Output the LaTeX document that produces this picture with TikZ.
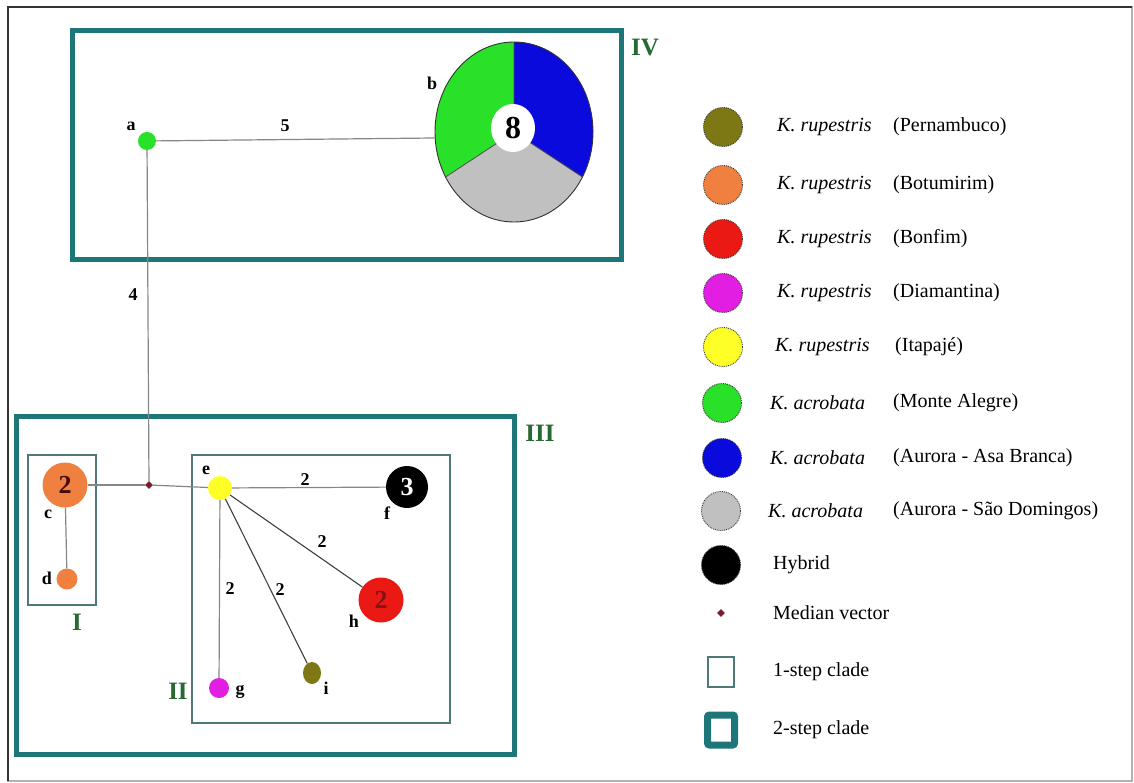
\documentclass[tikz,border=0pt]{standalone}
\usepackage{fontspec}
\setmainfont{Liberation Serif}
\usetikzlibrary{shapes.geometric}
\definecolor{hOrange}{RGB}{240,128,64}
\definecolor{hRed}{RGB}{235,25,20}
\definecolor{hMagenta}{RGB}{225,30,225}
\definecolor{hYellow}{RGB}{255,255,40}
\definecolor{hGreen}{RGB}{40,225,40}
\definecolor{hBlue}{RGB}{10,10,220}
\definecolor{hGray}{RGB}{192,192,192}
\definecolor{hOlive}{RGB}{125,120,20}
\definecolor{tealbox}{RGB}{30,118,120}
\definecolor{thinteal}{RGB}{80,120,120}
\definecolor{cladegreen}{RGB}{40,105,50}
\definecolor{edgegray}{RGB}{135,135,135}
\definecolor{mvred}{RGB}{120,30,45}
\tikzset{
  hap/.style={circle, inner sep=0pt, minimum size=#1},
  lab/.style={font=\fontsize{18}{18}\selectfont\bfseries, inner sep=0pt},
  cladelab/.style={font=\fontsize{25}{25}\selectfont\bfseries, text=cladegreen, inner sep=0pt},
  edge/.style={draw=edgegray, line width=1.2pt},
  dedge/.style={draw=black!75, line width=1.1pt},
  bigbox/.style={draw=tealbox, line width=5pt},
  smallbox/.style={draw=thinteal, line width=1.3pt},
  legdot/.style={circle, minimum size=39pt, inner sep=0pt, draw=black!80, densely dotted, line width=0.9pt},
  legtext/.style={anchor=west, font=\fontsize{20}{24}\selectfont, inner sep=0pt},
}
\begin{document}
\begin{tikzpicture}[x=1pt,y=1pt]
\useasboundingbox (0,0) rectangle (1134,-783);
\fill[white] (0,0) rectangle (1134,-783);
% outer frame
\draw[gray!60, line width=1.2pt] (8,-7) rectangle (1132,-781);
\draw[black!80, line width=1.6pt] (8,-781) -- (8,-7) -- (1132,-7);

% clade boxes
\draw[bigbox] (72,-31) rectangle (621,-260);
\draw[bigbox] (16,-416) rectangle (514,-754);
\draw[smallbox] (28,-455) rectangle (96,-605);
\draw[smallbox] (192,-455) rectangle (450,-723);
\node[cladelab] (lIV) at (645,-48) {IV};
\node[cladelab] (lIII) at (540,-433) {III};
\node[cladelab] (lI) at (77,-622) {I};
\node[cladelab] (lII) at (178,-691) {II};

% haplotype b (pie)
\fill[hGreen] (514,-132) -- ++(90:79pt and 90pt) arc[start angle=90, end angle=210, x radius=79pt, y radius=90pt] -- cycle;
\fill[hGray] (514,-132) -- ++(210:79pt and 90pt) arc[start angle=210, end angle=330, x radius=79pt, y radius=90pt] -- cycle;
\fill[hBlue] (514,-132) -- ++(330:79pt and 90pt) arc[start angle=330, end angle=450, x radius=79pt, y radius=90pt] -- cycle;
\draw[black!70, line width=0.8pt] (514,-132) -- ++(90:79pt and 90pt) (514,-132) -- ++(210:79pt and 90pt) (514,-132) -- ++(330:79pt and 90pt);
\node[ellipse, draw=black!80, line width=0.9pt, minimum width=158pt, minimum height=180pt, inner sep=0pt] (b) at (514,-132) {};
\node[ellipse, fill=white, minimum width=44pt, minimum height=48pt, inner sep=0pt, font=\fontsize{32}{32}\selectfont\bfseries] (bnum) at (513,-128) {8};

% other haplotypes
\node[hap=18pt, fill=hGreen] (a) at (147,-141) {};
\node[hap=45pt, fill=hOrange, font=\fontsize{26}{26}\selectfont\bfseries, text={rgb,255:red,70;green,10;blue,10}] (c) at (65,-485) {2};
\node[hap=21pt, fill=hOrange] (d) at (67,-579) {};
\node[diamond, fill=mvred, inner sep=0pt, minimum size=8pt] (mv) at (149,-485) {};
\node[hap=24pt, fill=hYellow] (e) at (220,-488) {};
\node[hap=42pt, fill=black, text=white, font=\fontsize{26}{26}\selectfont\bfseries] (f) at (407,-487) {3};
\node[hap=45pt, fill=hRed, text={rgb,255:red,130;green,20;blue,20}, font=\fontsize{26}{26}\selectfont\bfseries] (h) at (381,-600) {2};
\node[ellipse, fill=hOlive, inner sep=0pt, minimum width=18pt, minimum height=22pt] (i) at (312,-673) {};
\node[hap=20pt, fill=hMagenta] (g) at (219,-688) {};

% connectors
\draw[edge] (a) -- ([yshift=-6pt]b.west);
\draw[edge] (a) -- (mv);
\draw[edge] (c) -- (mv);
\draw[edge] (mv) -- (e);
\draw[edge] (c) -- (d);
\draw[edge] (e) -- (f);
\draw[edge] (e) -- (g);
\draw[dedge] (e) -- (h);
\draw[dedge] (e) -- (i);

% node letters
\node[lab] (ta) at (131,-126) {a};
\node[lab] (tb) at (432,-83) {b};
\node[lab] (tc) at (48,-514) {c};
\node[lab] (td) at (47,-578) {d};
\node[lab] (te) at (206,-470) {e};
\node[lab] (tf) at (387,-513) {f};
\node[lab] (tg) at (240,-692) {g};
\node[lab] (th) at (354,-621) {h};
\node[lab] (ti) at (326,-688) {i};

% edge numbers
\node[lab] (n5) at (285,-126) {5};
\node[lab] (n4) at (133,-295) {4};
\node[lab] (nef) at (305,-480) {2};
\node[lab] (neh) at (322,-542) {2};
\node[lab] (nei) at (280,-590) {2};
\node[lab] (neg) at (230,-589) {2};

% legend
\node[legdot, fill=hOlive] (k1) at (723,-127) {};
\node[legtext] (k1a) at (777,-127) {\itshape K. rupestris};
\node[legtext] (k1b) at (893,-127) {(Pernambuco)};
\node[legdot, fill=hOrange] (k2) at (723,-185) {};
\node[legtext] (k2a) at (777,-185) {\itshape K. rupestris};
\node[legtext] (k2b) at (893,-185) {(Botumirim)};
\node[legdot, fill=hRed] (k3) at (723,-239) {};
\node[legtext] (k3a) at (777,-239) {\itshape K. rupestris};
\node[legtext] (k3b) at (893,-239) {(Bonfim)};
\node[legdot, fill=hMagenta] (k4) at (723,-293) {};
\node[legtext] (k4a) at (777,-293) {\itshape K. rupestris};
\node[legtext] (k4b) at (893,-293) {(Diamantina)};
\node[legdot, fill=hYellow] (k5) at (723,-347) {};
\node[legtext] (k5a) at (775,-347) {\itshape K. rupestris};
\node[legtext] (k5b) at (895,-347) {(Itapajé)};
\node[legdot, fill=hGreen] (k6) at (722,-403) {};
\node[legtext] (k6a) at (770,-403) {\itshape K. acrobata};
\node[legtext] (k6b) at (893,-403) {(Monte Alegre)};
\node[legdot, fill=hBlue] (k7) at (722,-458) {};
\node[legtext] (k7a) at (770,-458) {\itshape K. acrobata};
\node[legtext] (k7b) at (893,-458) {(Aurora - Asa Branca)};
\node[legdot, fill=hGray] (k8) at (721,-511) {};
\node[legtext] (k8a) at (768,-511) {\itshape K. acrobata};
\node[legtext] (k8b) at (893,-511) {(Aurora - São Domingos)};
\node[legdot, fill=black] (k9) at (721,-565) {};
\node[legtext] (k9a) at (773,-565) {Hybrid};
\node[diamond, fill=mvred, inner sep=0pt, minimum size=8pt] (k10) at (721,-613) {};
\node[legtext] (k10a) at (773,-613) {Median vector};
\node[draw=thinteal, line width=1.3pt, inner sep=0pt, minimum width=26pt, minimum height=30pt] (k11) at (721,-672) {};
\node[legtext] (k11a) at (773,-672) {1-step clade};
\node[draw=tealbox, line width=7pt, rounded corners=2pt, inner sep=0pt, minimum width=27pt, minimum height=30pt] (k12) at (721,-730) {};
\node[legtext] (k12a) at (773,-730) {2-step clade};
\end{tikzpicture}
\end{document}
